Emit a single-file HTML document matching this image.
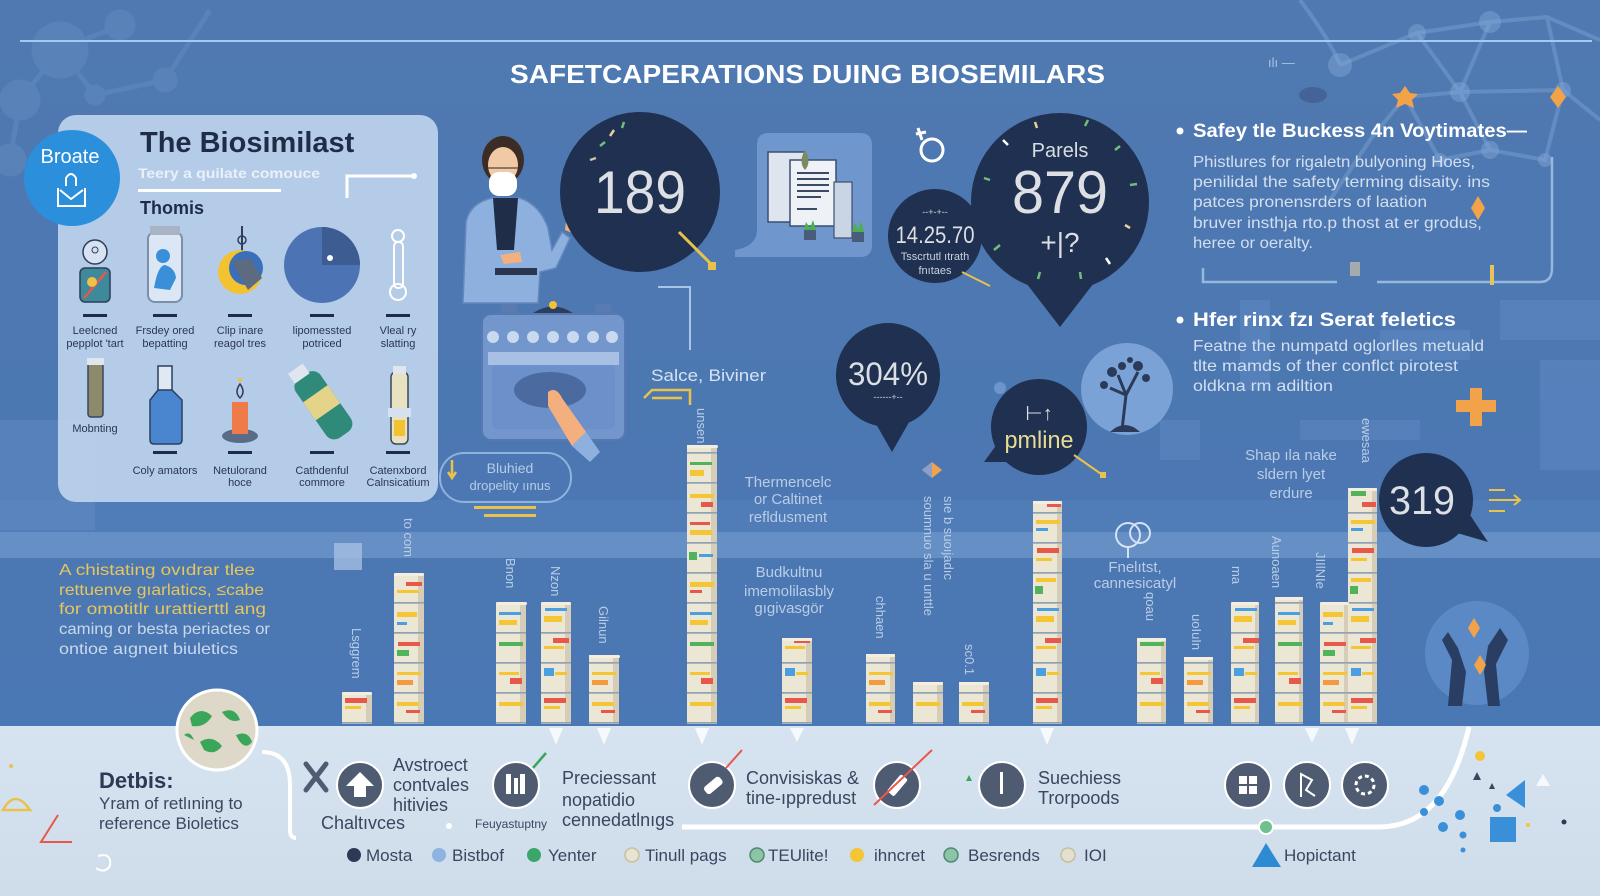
<!DOCTYPE html>
<html><head><meta charset="utf-8"><style>
html,body{margin:0;padding:0;background:#4c77b1;width:1600px;height:896px;overflow:hidden;}
svg{display:block;font-family:"Liberation Sans",sans-serif;}
</style></head><body>
<svg width="1600" height="896" viewBox="0 0 1600 896" xmlns="http://www.w3.org/2000/svg" style="position:absolute;left:0;top:0;overflow:hidden">
<defs>
<linearGradient id="bg" x1="0" y1="0" x2="0" y2="1"><stop offset="0" stop-color="#5079b1"/><stop offset="0.6" stop-color="#4b77b2"/><stop offset="1" stop-color="#4a78b6"/></linearGradient>
<linearGradient id="bp" x1="0" y1="0" x2="0" y2="1"><stop offset="0" stop-color="#d6e3f0"/><stop offset="1" stop-color="#cfdcea"/></linearGradient>
<pattern id="seg" width="30" height="30" patternUnits="userSpaceOnUse"><rect y="28" width="30" height="1.5" fill="#8da2ba"/><rect y="29.5" width="30" height="1.5" fill="#cdc5b0"/></pattern>
<g id="colA"><rect width="30" height="300" rx="3" fill="#ece6d4"/><rect x="24" width="6" height="300" fill="#d5cdb7"/><rect width="30" height="300" fill="url(#seg)"/>
<rect x="3" y="6" width="22" height="3" fill="#f4c534"/><rect x="3" y="14" width="14" height="4" fill="#e8584a"/><rect x="2" y="34" width="6" height="9" fill="#4b9fe1"/><rect x="10" y="38" width="16" height="3" fill="#f4c534"/><rect x="4" y="48" width="20" height="3" fill="#f4c534"/><rect x="3" y="66" width="15" height="6" fill="#52b45a"/><rect x="14" y="78" width="14" height="5" fill="#e8584a"/><rect x="3" y="96" width="24" height="4" fill="#f4c534"/><rect x="3" y="104" width="12" height="3" fill="#4b9fe1"/><rect x="4" y="124" width="22" height="5" fill="#e8584a"/><rect x="3" y="134" width="16" height="3" fill="#f4c534"/><rect x="3" y="154" width="20" height="4" fill="#f4c534"/><rect x="2" y="162" width="8" height="8" fill="#52b45a"/><rect x="4" y="184" width="22" height="3" fill="#4b9fe1"/><rect x="3" y="192" width="18" height="6" fill="#f4c534"/><rect x="12" y="214" width="16" height="5" fill="#e8584a"/><rect x="3" y="222" width="20" height="3" fill="#f4c534"/><rect x="3" y="244" width="10" height="8" fill="#4b9fe1"/><rect x="14" y="248" width="12" height="3" fill="#f4c534"/><rect x="3" y="274" width="22" height="5" fill="#e8584a"/><rect x="3" y="282" width="16" height="3" fill="#f4c534"/></g>
<g id="colB"><rect width="30" height="300" rx="3" fill="#ece6d4"/><rect x="24" width="6" height="300" fill="#d5cdb7"/><rect width="30" height="300" fill="url(#seg)"/>
<rect x="3" y="5" width="20" height="4" fill="#e8584a"/><rect x="3" y="13" width="24" height="3" fill="#f4c534"/><rect x="2" y="20" width="7" height="6" fill="#4b9fe1"/><rect x="4" y="40" width="22" height="5" fill="#f4c534"/><rect x="3" y="48" width="12" height="3" fill="#52b45a"/><rect x="14" y="68" width="14" height="7" fill="#e8584a"/><rect x="3" y="80" width="22" height="3" fill="#f4c534"/><rect x="3" y="100" width="10" height="6" fill="#4b9fe1"/><rect x="3" y="108" width="24" height="4" fill="#f4c534"/><rect x="3" y="128" width="18" height="3" fill="#f4c534"/><rect x="4" y="136" width="14" height="6" fill="#52b45a"/><rect x="12" y="158" width="16" height="4" fill="#e8584a"/><rect x="3" y="166" width="22" height="3" fill="#f4c534"/><rect x="3" y="188" width="20" height="5" fill="#f4c534"/><rect x="3" y="198" width="10" height="3" fill="#4b9fe1"/><rect x="4" y="218" width="22" height="4" fill="#e8584a"/><rect x="3" y="226" width="12" height="6" fill="#52b45a"/><rect x="3" y="248" width="24" height="3" fill="#f4c534"/><rect x="3" y="256" width="16" height="5" fill="#f39a3c"/><rect x="3" y="278" width="22" height="4" fill="#f4c534"/><rect x="12" y="286" width="14" height="3" fill="#e8584a"/></g>
<g id="colC"><rect width="30" height="300" rx="3" fill="#ece6d4"/><rect x="24" width="6" height="300" fill="#d5cdb7"/><rect width="30" height="300" fill="url(#seg)"/>
<rect x="2" y="6" width="8" height="8" fill="#4b9fe1"/><rect x="12" y="8" width="14" height="3" fill="#f4c534"/><rect x="3" y="20" width="24" height="4" fill="#f4c534"/><rect x="3" y="38" width="22" height="3" fill="#52b45a"/><rect x="3" y="46" width="14" height="6" fill="#f4c534"/><rect x="3" y="70" width="24" height="4" fill="#f4c534"/><rect x="14" y="78" width="12" height="5" fill="#e8584a"/><rect x="3" y="98" width="20" height="3" fill="#e8584a"/><rect x="3" y="106" width="22" height="5" fill="#f4c534"/><rect x="2" y="128" width="8" height="8" fill="#52b45a"/><rect x="12" y="130" width="14" height="3" fill="#4b9fe1"/><rect x="3" y="158" width="24" height="5" fill="#f4c534"/><rect x="3" y="166" width="12" height="3" fill="#e8584a"/><rect x="3" y="188" width="22" height="3" fill="#4b9fe1"/><rect x="3" y="196" width="18" height="5" fill="#f4c534"/><rect x="3" y="218" width="24" height="4" fill="#52b45a"/><rect x="3" y="248" width="20" height="3" fill="#f4c534"/><rect x="14" y="254" width="12" height="6" fill="#e8584a"/><rect x="3" y="278" width="24" height="4" fill="#f4c534"/></g>
</defs>

<!-- background -->
<rect width="1600" height="896" fill="url(#bg)"/>
<!-- top-left molecules -->
<g fill="#6f97cb" opacity="0.3" stroke="#6f97cb" stroke-width="5">
<line x1="20" y1="100" x2="60" y2="50"/><line x1="60" y1="50" x2="120" y2="25"/><line x1="60" y1="50" x2="95" y2="95"/><line x1="95" y1="95" x2="165" y2="80"/><line x1="165" y1="80" x2="210" y2="10"/><line x1="20" y1="100" x2="10" y2="160"/>
<circle cx="60" cy="50" r="26"/><circle cx="20" cy="100" r="18"/><circle cx="120" cy="25" r="13"/><circle cx="165" cy="80" r="10"/><circle cx="95" cy="95" r="8"/><circle cx="10" cy="160" r="14"/>
</g>
<!-- top-right network -->
<g stroke="#82a9da" stroke-width="4" fill="none" opacity="0.4">
<path d="M1340,65 L1417,33 L1490,22 L1547,17 L1600,40"/><path d="M1417,33 L1460,92 L1563,90 L1600,120"/><path d="M1490,22 L1460,92 L1405,97 L1370,140 L1330,200"/><path d="M1460,92 L1490,150 L1545,160 L1563,90"/><path d="M1405,97 L1440,160 L1490,150"/><path d="M1547,17 L1563,90"/><path d="M1300,0 Q1330,40 1340,65"/>
</g>
<g fill="#82a9da" opacity="0.45"><circle cx="1340" cy="65" r="12"/><circle cx="1417" cy="33" r="9"/><circle cx="1490" cy="22" r="11"/><circle cx="1460" cy="92" r="10"/><circle cx="1563" cy="90" r="8"/><circle cx="1490" cy="150" r="9"/><circle cx="1440" cy="160" r="7"/><circle cx="1545" cy="160" r="7"/></g>
<!-- right circuit blocks -->
<g fill="#6a93ca" opacity="0.35">
<rect x="1500" y="300" width="100" height="40"/><rect x="1240" y="300" width="30" height="90"/><rect x="1380" y="330" width="90" height="30"/><rect x="1540" y="360" width="60" height="110"/><rect x="1300" y="420" width="120" height="20"/><rect x="1160" y="420" width="40" height="40"/>
</g>
<path d="M1203,268 L1203,282 L1337,282 M1377,282 L1540,282 Q1552,282 1552,268 L1552,157" stroke="#a9c7ea" stroke-width="2.5" fill="none" opacity="0.8"/>
<rect x="1490" y="265" width="4" height="20" fill="#e8c25a"/>
<rect x="1350" y="262" width="10" height="14" fill="#c9c2a8" opacity="0.7"/>
<!-- left-side faint shapes -->
<rect x="0" y="420" width="95" height="110" fill="#6f98cc" opacity="0.3"/>
<!-- band -->
<rect x="0" y="532" width="1600" height="26" fill="#85acdc" opacity="0.45"/>
<rect x="0" y="500" width="1600" height="32" fill="#6a93cb" opacity="0.18"/>

<!-- top line & title -->
<rect x="20" y="40" width="1572" height="2" fill="#a3c9f0"/>
<text x="510" y="83" font-size="26" font-weight="bold" fill="#ffffff" textLength="595" lengthAdjust="spacingAndGlyphs">SAFETCAPERATIONS DUING BIOSEMILARS</text>
<text x="1268" y="67" font-size="13" fill="#a9c4e6">ılı —</text>
<ellipse cx="1313" cy="95" rx="14" ry="8" fill="#3d5785" opacity="0.6"/>

<!-- left panel -->
<rect x="58" y="115" width="380" height="387" rx="18" fill="#bad1eb" opacity="0.95"/>
<circle cx="72" cy="178" r="48" fill="#2b8fdc"/>
<text x="70" y="163" font-size="20" fill="#ffffff" text-anchor="middle">Broate</text>
<path d="M66,186 L66,178 Q71,170 76,178 L76,186" stroke="#fff" stroke-width="2" fill="none"/>
<path d="M58,188 L58,206 L85,206 L85,188 M60,190 L71,199 L83,190" stroke="#fff" stroke-width="2" fill="none"/>
<text x="140" y="152" font-size="29" font-weight="bold" fill="#1f2c47">The Biosimilast</text>
<text x="138" y="178" font-size="14" font-weight="bold" fill="#e9f0f9" textLength="182" lengthAdjust="spacingAndGlyphs">Teery a quilate comouce</text>
<rect x="138" y="189" width="143" height="3" fill="#ffffff"/>
<path d="M347,198 L347,176 L413,176" stroke="#fff" stroke-width="3" fill="none"/><circle cx="414" cy="176" r="3" fill="#fff"/>
<text x="140" y="214" font-size="18" font-weight="bold" fill="#1f2c47">Thomis</text>
<!-- row1 icons -->
<circle cx="95" cy="252" r="12" fill="#d7e3f2" stroke="#2f3d58" stroke-width="1.5"/><circle cx="95" cy="250" r="3" fill="none" stroke="#2f3d58"/>
<rect x="80" y="268" width="30" height="34" rx="5" fill="#3f8a9a" stroke="#2f3d58" stroke-width="1.5"/><path d="M84,298 L106,272" stroke="#e8584a" stroke-width="2.5"/><circle cx="92" cy="282" r="5" fill="#f0c04a"/>
<rect x="148" y="232" width="34" height="70" rx="7" fill="#dbe7f4" stroke="#7d8ea6" stroke-width="2"/><rect x="150" y="226" width="30" height="9" fill="#a8b4c4"/><circle cx="163" cy="256" r="7" fill="#3b8fd8"/><path d="M154,288 Q158,265 165,265 Q175,268 176,278 L170,290 Z" fill="#3b8fd8"/>
<line x1="242" y1="226" x2="242" y2="252" stroke="#2f3d58" stroke-width="2"/><circle cx="242" cy="240" r="4" fill="none" stroke="#2f3d58" stroke-width="1.5"/>
<circle cx="240" cy="272" r="22" fill="#f2c230"/><circle cx="246" cy="268" r="17" fill="#3b6fb8"/><path d="M232,262 L250,258 L262,278 L248,290 Z" fill="#5c6b80"/>
<circle cx="322" cy="265" r="38" fill="#4c74b4"/><path d="M322,227 A38,38 0 0 1 360,265 L322,265 Z" fill="#3c5c92"/><circle cx="330" cy="258" r="3" fill="#fff"/>
<circle cx="398" cy="236" r="6" fill="none" stroke="#fff" stroke-width="2"/><rect x="394" y="242" width="9" height="46" rx="4" fill="none" stroke="#fff" stroke-width="2"/><circle cx="398" cy="292" r="8" fill="none" stroke="#fff" stroke-width="2"/>
<g fill="#1f2c47"><rect x="83" y="314" width="24" height="3"/><rect x="153" y="314" width="24" height="3"/><rect x="228" y="314" width="24" height="3"/><rect x="310" y="314" width="24" height="3"/><rect x="386" y="314" width="24" height="3"/>
<rect x="153" y="451" width="24" height="3"/><rect x="228" y="451" width="24" height="3"/><rect x="310" y="451" width="24" height="3"/><rect x="386" y="451" width="24" height="3"/></g>
<g font-size="11" fill="#2a3650" text-anchor="middle">
<text x="95" y="334">Leelcned</text><text x="95" y="347">pepplot 'tart</text>
<text x="165" y="334">Frsdey ored</text><text x="165" y="347">bepatting</text>
<text x="240" y="334">Clip inare</text><text x="240" y="347">reagol tres</text>
<text x="322" y="334">lipomessted</text><text x="322" y="347">potriced</text>
<text x="398" y="334">Vleal ry</text><text x="398" y="347">slatting</text>
<text x="95" y="432">Mobnting</text>
<text x="165" y="474">Coly amators</text>
<text x="240" y="474">Netulorand</text><text x="240" y="486">hoce</text>
<text x="322" y="474">Cathdenful</text><text x="322" y="486">commore</text>
<text x="398" y="474">Catenxbord</text><text x="398" y="486">Calnsicatium</text>
</g>
<!-- row2 icons -->
<rect x="88" y="362" width="15" height="55" rx="3" fill="#8c8a6a" stroke="#3a465c" stroke-width="1.5"/><rect x="87" y="358" width="17" height="7" fill="#dfe6ef"/>
<rect x="158" y="366" width="14" height="26" fill="#dfe8f3" stroke="#2c3e60" stroke-width="1.5"/><path d="M158,390 L150,400 L150,440 Q150,444 154,444 L178,444 Q182,444 182,440 L182,400 L172,390 Z" fill="#4a86d0" stroke="#2c3e60" stroke-width="1.5"/>
<ellipse cx="240" cy="436" rx="18" ry="7" fill="#5a6b86"/><rect x="232" y="402" width="16" height="32" fill="#ef7a4a"/><path d="M240,384 Q234,392 240,398 Q246,392 240,384 Z" fill="none" stroke="#2f3d58" stroke-width="1.5"/><circle cx="240" cy="380" r="2" fill="#f2c230"/>
<g transform="rotate(-35 322 405)"><rect x="308" y="370" width="30" height="72" rx="10" fill="#2f8a7a"/><rect x="312" y="360" width="18" height="12" fill="#dfe6ef"/><rect x="308" y="392" width="30" height="22" fill="#e4d48a"/></g>
<rect x="391" y="372" width="17" height="72" rx="5" fill="#e8e2c0" stroke="#3a465c" stroke-width="1.5"/><rect x="393" y="366" width="13" height="8" fill="#dfe6ef"/><rect x="388" y="408" width="23" height="9" fill="#d6e1ef"/><rect x="394" y="420" width="11" height="16" fill="#f2c230"/>

<!-- person -->
<path d="M463,303 L466,222 Q470,203 492,198 L520,198 Q540,205 548,228 L552,250 L562,232 L570,238 L556,268 L540,272 L538,303 Z" fill="#8eb0de" stroke="#6488bf" stroke-width="1.5"/>
<path d="M493,198 L518,198 L514,250 L497,250 Z" fill="#1f2d48"/>
<ellipse cx="503" cy="160" rx="21" ry="24" fill="#3b2c26"/>
<ellipse cx="503" cy="165" rx="15" ry="18" fill="#f1c9a5"/>
<rect x="489" y="172" width="28" height="24" rx="10" fill="#ffffff"/>
<line x1="488" y1="168" x2="518" y2="168" stroke="#6b5a50" stroke-width="1.5"/>
<rect x="495" y="268" width="42" height="7" fill="#2a3550"/>
<path d="M565,230 L568,205 L574,206 L573,222 L584,212 L587,216 L575,234 Z" fill="#f3b07e"/>
<path d="M500,255 L520,252 L522,262 L504,264 Z" fill="#f3b07e"/>
<!-- machine -->
<rect x="501" y="304" width="16" height="12" rx="3" fill="#5a7bb2"/><rect x="595" y="304" width="16" height="12" rx="3" fill="#5a7bb2"/>
<path d="M533,313 Q553,300 573,313 Z" fill="#2c3d5e"/><circle cx="553" cy="305" r="4" fill="#f2c230"/>
<rect x="482" y="314" width="143" height="126" rx="9" fill="#7397cd" stroke="#5679b2" stroke-width="2"/>
<g fill="#c9d9ef"><circle cx="493" cy="337" r="6"/><circle cx="513" cy="337" r="6"/><circle cx="533" cy="337" r="6"/><circle cx="553" cy="337" r="6"/><circle cx="573" cy="337" r="6"/><circle cx="593" cy="337" r="6"/><circle cx="612" cy="337" r="6"/></g>
<rect x="488" y="352" width="131" height="13" fill="#a7c0e4"/>
<rect x="492" y="365" width="123" height="64" rx="5" fill="#6b90ca"/>
<ellipse cx="550" cy="390" rx="36" ry="18" fill="#4b6aa0"/>
<path d="M548,392 Q556,386 562,398 L586,432 L572,446 L548,406 Z" fill="#f3b07e"/>
<path d="M572,446 L586,432 L600,452 L590,462 Z" fill="#8eb0de"/>

<!-- 189 circle -->
<circle cx="640" cy="192" r="80" fill="#1f3050"/>
<g stroke-width="2.5"><line x1="610" y1="136" x2="614" y2="130" stroke="#e6d19a"/><line x1="600" y1="146" x2="605" y2="142" stroke="#6fbf7a"/><line x1="590" y1="160" x2="596" y2="158" stroke="#c9c2a8"/><line x1="622" y1="128" x2="624" y2="122" stroke="#6fbf7a"/></g>
<text x="640" y="213" font-size="60" fill="#dcdfe4" text-anchor="middle" textLength="92" lengthAdjust="spacingAndGlyphs">189</text>
<path d="M679,232 L713,266" stroke="#e8c24a" stroke-width="3"/><rect x="708" y="262" width="8" height="8" fill="#e8c24a"/>
<!-- document card -->
<path d="M735,250 Q757,246 757,230 L757,145 Q757,133 769,133 L860,133 Q872,133 872,145 L872,245 Q872,257 860,257 L735,257 Z" fill="#6f97cd"/>
<rect x="768" y="152" width="37" height="70" fill="#dfe5ee" stroke="#3c4e70" stroke-width="1.5"/>
<rect x="790" y="160" width="46" height="66" fill="#eef1f5" stroke="#3c4e70" stroke-width="1.5"/>
<g fill="#3b4a66"><rect x="797" y="172" width="32" height="2"/><rect x="797" y="178" width="32" height="2"/><rect x="797" y="184" width="32" height="2"/><rect x="797" y="190" width="32" height="2"/><rect x="797" y="196" width="24" height="2"/><rect x="797" y="208" width="20" height="2"/></g>
<rect x="834" y="182" width="18" height="56" fill="#c9d4e4" stroke="#3c4e70" stroke-width="1.2"/>
<path d="M805,150 Q798,162 805,170 Q812,162 805,150 Z" fill="#7b8a60"/>
<rect x="804" y="230" width="12" height="10" fill="#4a5c7c"/><path d="M804,230 L806,222 L810,228 L813,220 L816,230 Z" fill="#4caf50"/>
<rect x="852" y="232" width="12" height="10" fill="#4a5c7c"/><path d="M852,232 L855,222 L858,230 L861,221 L864,232 Z" fill="#4caf50"/>
<!-- b icon -->
<circle cx="932" cy="150" r="11" fill="none" stroke="#fff" stroke-width="3"/><path d="M922,140 L918,128 M916,134 L926,132" stroke="#fff" stroke-width="3"/>

<!-- 879 bubble -->
<path d="M1020,275 L1100,275 L1060,327 Z" fill="#1f3050"/>
<circle cx="1060" cy="202" r="89" fill="#1f3050"/>
<g stroke-width="2.5"><line x1="1037" y1="128" x2="1035" y2="122" stroke="#e6d19a"/><line x1="1085" y1="126" x2="1088" y2="120" stroke="#6fbf7a"/><line x1="1115" y1="150" x2="1120" y2="146" stroke="#6fbf7a"/><line x1="1130" y1="185" x2="1137" y2="184" stroke="#6fbf7a"/><line x1="1125" y1="225" x2="1130" y2="228" stroke="#e6d19a"/><line x1="1106" y1="258" x2="1110" y2="264" stroke="#fff"/><line x1="1080" y1="272" x2="1081" y2="279" stroke="#6fbf7a"/><line x1="1040" y1="272" x2="1038" y2="279" stroke="#6fbf7a"/><line x1="1000" y1="245" x2="994" y2="250" stroke="#6fbf7a"/><line x1="990" y1="180" x2="984" y2="178" stroke="#6fbf7a"/><line x1="1008" y1="145" x2="1003" y2="140" stroke="#fff"/></g>
<text x="1060" y="157" font-size="20" fill="#d8dde4" text-anchor="middle">Parels</text>
<text x="1060" y="213" font-size="60" fill="#dcdfe4" text-anchor="middle" textLength="96" lengthAdjust="spacingAndGlyphs">879</text>
<text x="1060" y="252" font-size="28" fill="#dcdfe4" text-anchor="middle">+|?</text>
<!-- 14.25.70 -->
<circle cx="935" cy="236" r="47" fill="#1f3050"/>
<text x="935" y="215" font-size="9" fill="#c9d2de" text-anchor="middle">--+-+--</text>
<text x="935" y="243" font-size="24" fill="#dcdfe4" text-anchor="middle" textLength="79" lengthAdjust="spacingAndGlyphs">14.25.70</text>
<text x="935" y="260" font-size="11" fill="#c9d2de" text-anchor="middle">Tsscrtutl ıtrath</text>
<text x="935" y="274" font-size="11" fill="#c9d2de" text-anchor="middle">fnıtaes</text>
<path d="M962,272 L990,286" stroke="#e8c24a" stroke-width="2"/>

<!-- right text -->
<circle cx="1180" cy="131" r="3.5" fill="#fff"/>
<text x="1193" y="137" font-size="19" font-weight="bold" fill="#ffffff" textLength="334" lengthAdjust="spacingAndGlyphs">Safey tle Buckess 4n Voytimates—</text>
<g font-size="16" fill="#d3dfef">
<text x="1193" y="167" textLength="282" lengthAdjust="spacingAndGlyphs">Phistlures for rigaletn bulyoning Hoes,</text>
<text x="1193" y="187" textLength="297" lengthAdjust="spacingAndGlyphs">penilidal the safety terming disaity. ins</text>
<text x="1193" y="207" textLength="234" lengthAdjust="spacingAndGlyphs">patces pronensrders of laation</text>
<text x="1193" y="228" textLength="289" lengthAdjust="spacingAndGlyphs">bruver insthja rto.p thost at er grodus,</text>
<text x="1193" y="248" textLength="120" lengthAdjust="spacingAndGlyphs">heree or oeralty.</text>
</g>
<circle cx="1180" cy="320" r="3.5" fill="#fff"/>
<text x="1193" y="326" font-size="19" font-weight="bold" fill="#ffffff" textLength="263" lengthAdjust="spacingAndGlyphs">Hfer rinx fzı Serat feletics</text>
<g font-size="16" fill="#d3dfef">
<text x="1193" y="351" textLength="291" lengthAdjust="spacingAndGlyphs">Featne the numpatd oglorlles metuald</text>
<text x="1193" y="371" textLength="265" lengthAdjust="spacingAndGlyphs">tlte mamds of ther conflct pirotest</text>
<text x="1193" y="391" textLength="140" lengthAdjust="spacingAndGlyphs">oldkna rm adiltion</text>
</g>
<!-- orange accents -->
<path d="M1405,86 L1410,93 L1418,94 L1412,100 L1414,108 L1405,104 L1396,108 L1398,100 L1392,94 L1400,93 Z" fill="#f2a34a"/>
<path d="M1558,86 L1566,97 L1558,108 L1550,97 Z" fill="#f2a34a"/>
<path d="M1478,196 L1485,208 L1478,220 L1471,208 Z" fill="#f2a34a"/>
<path d="M1470,388 L1482,388 L1482,400 L1496,400 L1496,412 L1482,412 L1482,426 L1470,426 L1470,412 L1456,412 L1456,400 L1470,400 Z" fill="#f2a34a"/>

<!-- 304% -->
<path d="M868,410 L916,410 L892,452 Z" fill="#1f3050"/>
<circle cx="888" cy="375" r="52" fill="#1f3050"/>
<text x="888" y="385" font-size="32" fill="#dcdfe4" text-anchor="middle" textLength="80" lengthAdjust="spacingAndGlyphs">304%</text>
<text x="888" y="400" font-size="9" fill="#c9d2de" text-anchor="middle">------+--</text>
<!-- tree circle -->
<circle cx="1127" cy="389" r="46" fill="#7aa2d6"/>
<path d="M1122,430 L1126,395 L1118,375 M1126,395 L1138,372 M1126,395 L1110,388" stroke="#2b3a58" stroke-width="3" fill="none"/>
<path d="M1110,432 Q1125,418 1140,432 Z" fill="#2b3a58"/>
<g fill="#2b3a58"><circle cx="1112" cy="372" r="5"/><circle cx="1122" cy="366" r="4"/><circle cx="1138" cy="366" r="5"/><circle cx="1146" cy="378" r="4"/><circle cx="1104" cy="385" r="4"/><circle cx="1130" cy="360" r="3"/></g>
<circle cx="1000" cy="388" r="6" fill="#7aa2d6" opacity="0.7"/>
<!-- pmline -->
<path d="M1000,440 L1025,462 L984,462 Z" fill="#1f3050"/>
<circle cx="1039" cy="427" r="48" fill="#1f3050"/>
<text x="1039" y="420" font-size="20" fill="#dcdfe4" text-anchor="middle">⊢↑</text>
<text x="1039" y="448" font-size="24" fill="#e8dc94" text-anchor="middle" textLength="69" lengthAdjust="spacingAndGlyphs">pmline</text>
<path d="M1074,455 L1104,476" stroke="#e8c24a" stroke-width="2"/><rect x="1100" y="472" width="6" height="6" fill="#e8c24a"/>
<!-- 319 -->
<path d="M1440,528 L1468,512 L1488,542 Z" fill="#1f3050"/>
<circle cx="1426" cy="500" r="47" fill="#1f3050"/>
<text x="1422" y="514" font-size="40" fill="#dcdfe4" text-anchor="middle" textLength="66" lengthAdjust="spacingAndGlyphs">319</text>
<path d="M1489,500 L1520,500 M1514,495 L1520,500 L1514,505 M1489,490 L1505,490 M1489,511 L1505,511" stroke="#e8c24a" stroke-width="2" fill="none"/>
<!-- hands circle -->
<circle cx="1477" cy="653" r="52" fill="#5b89c6"/>
<path d="M1448,706 L1452,660 L1442,640 L1448,632 L1458,648 L1466,672 L1462,706 Z" fill="#2a3d63"/>
<path d="M1500,706 L1496,664 L1508,640 L1500,628 L1488,646 L1484,672 L1488,706 Z" fill="#2a3d63"/>
<path d="M1474,618 L1480,628 L1474,638 L1468,628 Z" fill="#f2a34a"/><path d="M1480,655 L1486,665 L1480,675 L1474,665 Z" fill="#f2a34a"/>

<!-- middle texts -->
<text x="651" y="381" font-size="17" fill="#d5e2f2" textLength="115" lengthAdjust="spacingAndGlyphs">Salce, Biviner</text>
<path d="M644,398 L652,390 L690,390 L690,405 M652,398 L682,398" stroke="#e8c24a" stroke-width="2.5" fill="none"/>
<path d="M658,287 L690,287 L690,350" stroke="#a9c4e6" stroke-width="2" fill="none"/>
<rect x="440" y="453" width="131" height="49" rx="24" fill="none" stroke="#8fb2dd" stroke-width="2"/>
<path d="M452,460 L452,476 M448,472 L452,478 L456,472" stroke="#e8c24a" stroke-width="2.5" fill="none"/>
<text x="510" y="473" font-size="14" fill="#b6cce8" text-anchor="middle">Bluhied</text>
<text x="510" y="490" font-size="13" fill="#b6cce8" text-anchor="middle">dropelity ıınus</text>
<rect x="474" y="506" width="62" height="3" fill="#e8c24a"/><rect x="484" y="514" width="52" height="3" fill="#e8c24a"/>
<g font-size="15" fill="#b9cde6" text-anchor="middle">
<text x="788" y="487">Thermencelc</text><text x="788" y="504">or Caltinet</text><text x="788" y="522">refldusment</text>
<text x="789" y="577">Budkultnu</text><text x="789" y="596">imemolilasbly</text><text x="789" y="613">gıgivasgör</text>
<text x="1135" y="572">Fnelıtst,</text><text x="1135" y="588">cannesicatyl</text>
<text x="1291" y="460">Shap ıla nake</text><text x="1291" y="479">sldern lyet</text><text x="1291" y="498">erdure</text>
</g>
<circle cx="1128" cy="535" r="12" fill="none" stroke="#d5e2f2" stroke-width="2"/><circle cx="1140" cy="533" r="10" fill="none" stroke="#d5e2f2" stroke-width="2"/><line x1="1128" y1="547" x2="1128" y2="558" stroke="#d5e2f2" stroke-width="2"/>
<path d="M932,462 L942,470 L932,478 L922,470 Z" fill="#f2a34a"/><path d="M932,462 L922,470 L932,478 Z" fill="#8aa0c8"/>
<rect x="334" y="543" width="28" height="27" fill="#a8c2e4" opacity="0.75"/>
<!-- left yellow text -->
<g font-size="16">
<text x="59" y="575" fill="#e6c65e" textLength="196" lengthAdjust="spacingAndGlyphs">A chistating ovıdrar tlee</text>
<text x="59" y="595" fill="#e6c65e" textLength="205" lengthAdjust="spacingAndGlyphs">rettuenve gıarlatics, ≤cabe</text>
<text x="59" y="614" fill="#e6c65e" textLength="207" lengthAdjust="spacingAndGlyphs">for omotitlr urattierttl ang</text>
<text x="59" y="634" fill="#c9d9ec" textLength="211" lengthAdjust="spacingAndGlyphs">caming or besta periactes or</text>
<text x="59" y="654" fill="#c9d9ec" textLength="179" lengthAdjust="spacingAndGlyphs">ontioe aıgneıt biuletics</text>
</g>
<!-- vertical labels -->
<g font-size="13" fill="#b9cde6">
<text transform="translate(404,518) rotate(90)">to com</text>
<text transform="translate(352,628) rotate(90)">Lsggrem</text>
<text transform="translate(506,558) rotate(90)">Bnon</text>
<text transform="translate(551,566) rotate(90)">Nzon</text>
<text transform="translate(599,606) rotate(90)">Gilnun</text>
<text transform="translate(697,408) rotate(90)">unsen</text>
<text transform="translate(876,596) rotate(90)">chhaen</text>
<text transform="translate(924,496) rotate(90)">soumnuo sla u unttle</text>
<text transform="translate(944,496) rotate(90)">sıe b suoıjadıc</text>
<text transform="translate(965,644) rotate(90)">sc0.1</text>
<text transform="translate(1146,592) rotate(90)">qoau</text>
<text transform="translate(1192,614) rotate(90)">uoIuIn</text>
<text transform="translate(1232,566) rotate(90)">ma</text>
<text transform="translate(1272,536) rotate(90)">Aunoaen</text>
<text transform="translate(1316,552) rotate(90)">JIIlNIe</text>
<text transform="translate(1362,418) rotate(90)">ewesaa</text>
</g>

<!-- bars (columns anchored at bottom so content extends upward only) -->
<svg x="342" y="692" width="30" height="32"><use href="#colA" y="-268"/></svg>
<svg x="394" y="573" width="30" height="151"><use href="#colB" y="-149"/></svg>
<svg x="496" y="602" width="31" height="122"><use href="#colC" y="-178"/></svg>
<svg x="541" y="602" width="30" height="122"><use href="#colA" y="-178"/></svg>
<svg x="589" y="655" width="31" height="69"><use href="#colB" y="-231"/></svg>
<svg x="687" y="445" width="31" height="279"><use href="#colC" y="-21"/></svg>
<svg x="782" y="638" width="30" height="86"><use href="#colA" y="-214"/></svg>
<svg x="866" y="654" width="29" height="70"><use href="#colB" y="-230"/></svg>
<svg x="913" y="682" width="30" height="42"><use href="#colC" y="-258"/></svg>
<svg x="959" y="682" width="30" height="42"><use href="#colB" y="-258"/></svg>
<svg x="1033" y="501" width="29" height="223"><use href="#colA" y="-77"/></svg>
<svg x="1137" y="638" width="29" height="86"><use href="#colC" y="-214"/></svg>
<svg x="1184" y="657" width="29" height="67"><use href="#colB" y="-233"/></svg>
<svg x="1231" y="602" width="28" height="122"><use href="#colA" y="-178"/></svg>
<svg x="1275" y="597" width="28" height="127"><use href="#colC" y="-173"/></svg>
<svg x="1320" y="602" width="29" height="122"><use href="#colB" y="-178"/></svg>
<svg x="1348" y="488" width="29" height="236"><use href="#colA" y="-64"/></svg>
<!-- bar top caps -->
<g fill="#f3eee0">
<rect x="342" y="692" width="30" height="3" rx="1.5"/><rect x="394" y="573" width="30" height="3" rx="1.5"/><rect x="496" y="602" width="31" height="3" rx="1.5"/><rect x="541" y="602" width="30" height="3" rx="1.5"/><rect x="589" y="655" width="31" height="3" rx="1.5"/><rect x="687" y="445" width="31" height="3" rx="1.5"/><rect x="782" y="638" width="30" height="3" rx="1.5"/><rect x="866" y="654" width="29" height="3" rx="1.5"/><rect x="913" y="682" width="30" height="3" rx="1.5"/><rect x="959" y="682" width="30" height="3" rx="1.5"/><rect x="1033" y="501" width="29" height="3" rx="1.5"/><rect x="1137" y="638" width="29" height="3" rx="1.5"/><rect x="1184" y="657" width="29" height="3" rx="1.5"/><rect x="1231" y="602" width="28" height="3" rx="1.5"/><rect x="1275" y="597" width="28" height="3" rx="1.5"/><rect x="1320" y="602" width="29" height="3" rx="1.5"/><rect x="1348" y="488" width="29" height="3" rx="1.5"/>
</g>

<!-- bottom panel -->
<rect x="0" y="726" width="1600" height="170" fill="url(#bp)"/>
<g fill="#ffffff" opacity="0.8">
<path d="M549,728 L563,728 L556,745 Z"/><path d="M597,728 L611,728 L604,745 Z"/><path d="M695,728 L709,728 L702,745 Z"/><path d="M790,728 L804,728 L797,742 Z"/><path d="M1040,728 L1054,728 L1047,745 Z"/><path d="M1305,728 L1319,728 L1312,743 Z"/><path d="M1345,728 L1359,728 L1352,745 Z"/>
</g>
<!-- globe -->
<circle cx="217" cy="730" r="40" fill="#ddd8c8" stroke="#ffffff" stroke-width="3"/>
<g fill="#3aa65a"><path d="M190,718 Q200,705 212,716 Q205,728 192,726 Z"/><path d="M222,712 Q235,706 240,720 Q230,724 222,712 Z"/><path d="M200,742 Q212,734 222,746 Q215,756 204,750 Z"/><path d="M236,735 Q248,730 252,742 Q244,752 236,735 Z"/><path d="M184,735 Q190,730 194,740 Z"/></g>
<path d="M262,752 Q290,752 290,785 L290,830 Q290,838 296,838" stroke="#fff" stroke-width="4" fill="none"/>
<text x="99" y="788" font-size="22" font-weight="bold" fill="#2e3a55">Detbis:</text>
<text x="99" y="809" font-size="17" fill="#3a4660">Yram of retlıning to</text>
<text x="99" y="829" font-size="17" fill="#3a4660">reference Bioletics</text>
<path d="M3,810 Q15,788 30,810 Z" fill="none" stroke="#e8c24a" stroke-width="2.5"/><circle cx="11" cy="766" r="2" fill="#e8c24a"/>
<path d="M58,815 L41,842 L72,842" stroke="#e8584a" stroke-width="2" fill="none"/>
<path d="M98,856 Q112,852 110,866 Q104,874 96,868" stroke="#fff" stroke-width="2" fill="none"/>
<!-- bottom icons -->
<path d="M306,764 L326,790 M326,764 L306,790" stroke="#4f5b70" stroke-width="5" stroke-linecap="round"/>
<g fill="#4f5b70" stroke="#ffffff" stroke-width="2">
<circle cx="360" cy="785" r="23"/><circle cx="516" cy="785" r="23"/><circle cx="712" cy="785" r="23"/><circle cx="897" cy="785" r="23"/><circle cx="1002" cy="785" r="23"/><circle cx="1248" cy="785" r="23"/><circle cx="1307" cy="785" r="23"/><circle cx="1365" cy="785" r="23"/>
</g>
<g fill="#ffffff">
<path d="M346,786 L360,772 L374,786 L366,786 L366,797 L354,797 L354,786 Z"/>
<rect x="506" y="774" width="5" height="20"/><rect x="514" y="778" width="4" height="16"/><rect x="520" y="774" width="5" height="20"/>
<rect x="703" y="781" width="20" height="9" rx="3" transform="rotate(-40 713 785)"/>
<rect x="886" y="781" width="22" height="9" rx="2" transform="rotate(-50 897 785)"/>
<rect x="1000" y="772" width="3" height="22"/>
<rect x="1239" y="776" width="8" height="8"/><rect x="1249" y="776" width="8" height="8"/><rect x="1239" y="786" width="8" height="8"/><rect x="1249" y="786" width="8" height="8"/>
</g>
<path d="M1301,797 L1301,774 L1312,780 L1306,790 L1315,796" stroke="#fff" stroke-width="2" fill="none"/>
<circle cx="1365" cy="785" r="9" fill="none" stroke="#fff" stroke-width="3" stroke-dasharray="4 3"/>
<path d="M533,768 L546,753" stroke="#3aa65a" stroke-width="2.5"/>
<path d="M726,768 L742,750" stroke="#e8584a" stroke-width="2"/>
<path d="M874,805 L932,750" stroke="#e8584a" stroke-width="2"/>
<path d="M966,781 L969,775 L972,781 Z" fill="#3aa65a"/>
<circle cx="449" cy="826" r="3" fill="#fff"/>
<g font-size="18" fill="#3a4660">
<text x="393" y="771">Avstroect</text><text x="393" y="791">contvales</text><text x="393" y="811">hitivies</text>
<text x="321" y="829">Chaltıvces</text>
<text x="562" y="784">Preciessant</text><text x="562" y="806">nopatidio</text><text x="562" y="826">cennedatlnıgs</text>
<text x="746" y="784">Convisiskas &amp;</text><text x="746" y="804">tine-ıppredust</text>
<text x="1038" y="784">Suechiess</text><text x="1038" y="804">Trorpoods</text>
</g>
<text x="475" y="828" font-size="12" fill="#3a4660">Feuyastuptny</text>
<!-- white timeline -->
<path d="M682,827 L1378,827 C1420,827 1452,800 1469,727" stroke="#ffffff" stroke-width="5" fill="none"/>
<circle cx="1266" cy="827" r="7" fill="#6fbf8f" stroke="#fff" stroke-width="2"/>
<!-- legend -->
<g font-size="17" fill="#3a4660">
<circle cx="354" cy="855" r="7" fill="#2e3a55"/><text x="366" y="861">Mosta</text>
<circle cx="439" cy="855" r="7" fill="#8db3e0"/><text x="452" y="861">Bistbof</text>
<circle cx="534" cy="855" r="7" fill="#3aa66a"/><text x="548" y="861">Yenter</text>
<circle cx="632" cy="855" r="7" fill="#e8e4d4" stroke="#c8bf9c" stroke-width="1.5"/><text x="645" y="861">Tinull pags</text>
<circle cx="757" cy="855" r="7" fill="#8cc4a8" stroke="#4f8a70" stroke-width="1.5"/><text x="768" y="861">TEUlite!</text>
<circle cx="857" cy="855" r="7" fill="#f4c534"/><text x="874" y="861">ihncret</text>
<circle cx="951" cy="855" r="7" fill="#8cc4a8" stroke="#4f8a70" stroke-width="1.5"/><text x="968" y="861">Besrends</text>
<circle cx="1068" cy="855" r="7" fill="#e3e0d2" stroke="#c8bf9c" stroke-width="1.5"/><text x="1084" y="861">IOI</text>
<path d="M1266,843 L1281,867 L1252,867 Z" fill="#2f8ad4"/><text x="1284" y="861">Hopictant</text>
</g>
<!-- right decorations -->
<circle cx="1480" cy="756" r="5" fill="#f4c534"/>
<path d="M1477,772 L1481,780 L1473,780 Z" fill="#3a4660"/>
<path d="M1492,783 L1495,789 L1489,789 Z" fill="#3a4660"/>
<path d="M1543,774 L1550,786 L1536,786 Z" fill="#ffffff" opacity="0.8"/>
<path d="M1525,780 L1525,808 L1506,795 Z" fill="#3a90d8"/>
<rect x="1490" y="817" width="26" height="25" fill="#3a90d8"/>
<g fill="#3a90d8"><circle cx="1424" cy="790" r="5"/><circle cx="1439" cy="801" r="5"/><circle cx="1460" cy="815" r="5"/><circle cx="1443" cy="827" r="5"/><circle cx="1497" cy="808" r="4"/><circle cx="1463" cy="835" r="3.5"/><circle cx="1424" cy="812" r="4"/><circle cx="1463" cy="850" r="2.5"/></g>
<circle cx="1564" cy="822" r="2.5" fill="#2e3a55"/>
<circle cx="1528" cy="825" r="2" fill="#f4c534"/>
</svg>
</body></html>
